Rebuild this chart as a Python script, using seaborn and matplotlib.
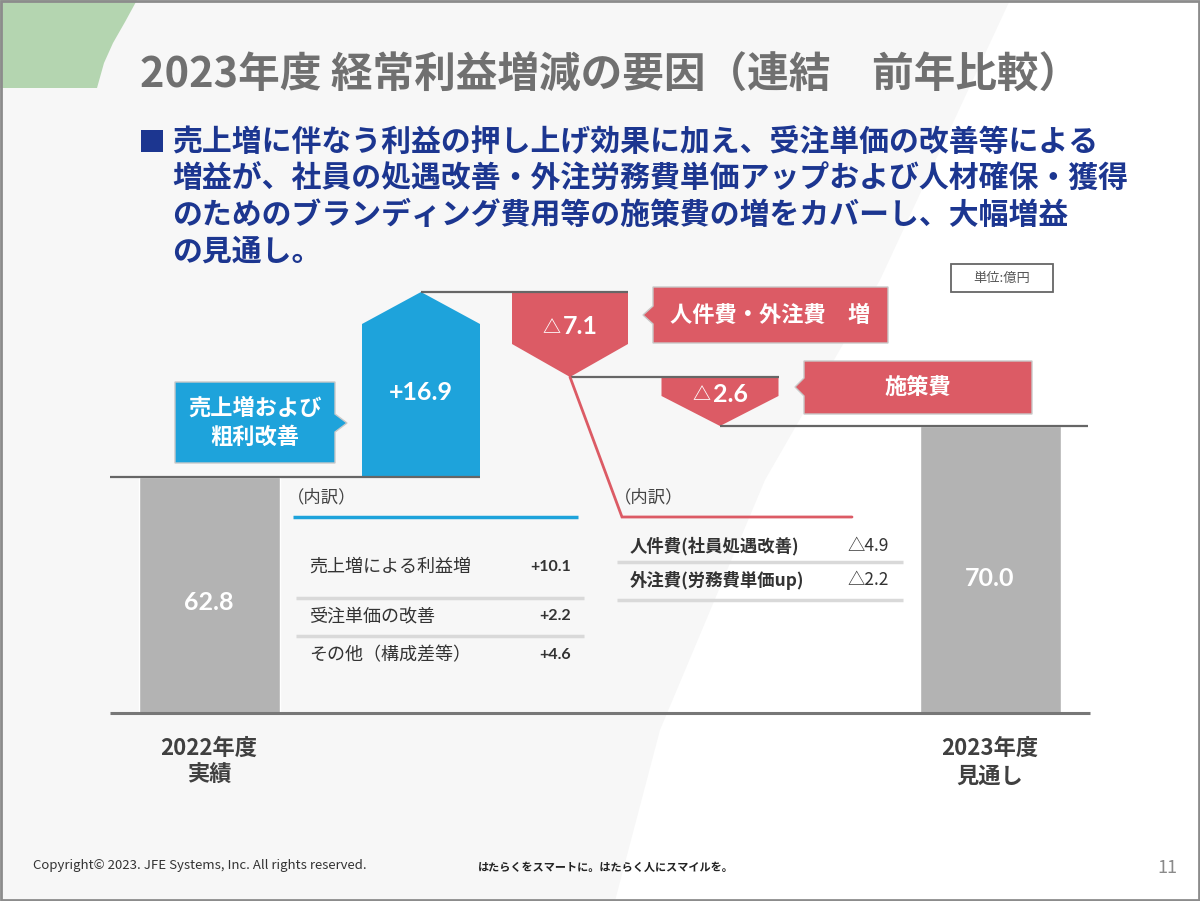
import numpy as np
import matplotlib
matplotlib.use("Agg")
import matplotlib.pyplot as plt
import seaborn as sns
from matplotlib.patches import Polygon, Rectangle

# ---------------- data ----------------
step_names = ["2022年度\n実績", "売上増および\n粗利改善", "人件費・外注費　増", "施策費", "2023年度\n見通し"]
start_value = 62.8
change_values = [16.9, -7.1, -2.6]
end_value = 70.0
step_labels = ["62.8", "+16.9", "△7.1", "△ 2.6", "70.0"]

left_items = ["売上増による利益増", "受注単価の改善", "その他（構成差等）"]
left_values = ["+10.1", "+2.2", "+4.6"]
right_items = ["人件費(社員処遇改善)", "外注費(労務費単価up)"]
right_values = ["△4.9", "△2.2"]

title = "2023年度 経常利益増減の要因（連結　前年比較）"
bullet_lines = [
    "売上増に伴なう利益の押し上げ効果に加え、受注単価の改善等による",
    "増益が、社員の処遇改善・外注労務費単価アップおよび人材確保・獲得",
    "のためのブランディング費用等の施策費の増をカバーし、大幅増益",
    "の見通し。",
]
unit_label = "単位:億円"
breakdown_label = "（内訳）"

# ---------------- style ----------------
sns.set_theme(style="white")
plt.rcParams["font.family"] = ["Noto Sans CJK JP", "DejaVu Sans"]
NUM_FONT = ["Lato", "Noto Sans CJK JP"]

W, H = 1200, 901
GRAY_BAR = "#b3b3b3"
BLUE = "#1ea3db"
RED = "#dc5b65"
NAVY = "#1c3690"
LINE = "#666666"

fig = plt.figure(figsize=(12, 9.01), dpi=100)

# background
bg = fig.add_axes([0, 0, 1, 1], zorder=0)
bg.set_xlim(0, W)
bg.set_ylim(H, 0)
bg.axis("off")
bg.add_patch(Rectangle((0, 0), W, H, facecolor="white", edgecolor="none"))
bg.add_patch(Polygon([(0, 0), (1010, 0), (880, 280), (765, 480), (660, 730), (615, H), (0, H)],
                     closed=True, facecolor="#f7f7f7", edgecolor="none"))
bg.add_patch(Polygon([(0, 0), (137, 0), (125, 22), (113, 43), (104, 63), (97, 88), (0, 88)],
                     closed=True, facecolor="#b4d5b0", edgecolor="none"))
bg.add_patch(Rectangle((1, 1), W - 2, H - 2, facecolor="none", edgecolor="#8c8c8c", lw=2))

# ---------------- waterfall data axes ----------------
levels = np.round(np.concatenate([[start_value], start_value + np.cumsum(change_values)]), 1)
knot_vals = np.unique(np.concatenate([[0.0], levels, [end_value]]))
knot_px = np.array([0, 236, 287, 336, 421], dtype=float)   # schematic heights above baseline
BASE_PX = 188  # baseline, pixels from the bottom


def _pl(x, xs, ys):
    a = np.asarray(x, dtype=float)
    f = a.ravel()
    y = np.interp(f, xs, ys)
    lo = f < xs[0]
    hi = f > xs[-1]
    y[lo] = ys[0] + (f[lo] - xs[0]) * (ys[1] - ys[0]) / (xs[1] - xs[0])
    y[hi] = ys[-1] + (f[hi] - xs[-1]) * (ys[-1] - ys[-2]) / (xs[-1] - xs[-2])
    return y.reshape(a.shape)


def fwd(v):
    return BASE_PX + _pl(v, knot_vals, knot_px)


def inv(p):
    return _pl(np.asarray(p, dtype=float) - BASE_PX, knot_px, knot_vals)


ax = fig.add_axes([0, 0, 1, 1], zorder=1)
ax.patch.set_alpha(0)
ax.set_yscale("function", functions=(fwd, inv))

step_x = [209, 421, 570, 720, 990]
step_w = [141, 118, 116, 117, 141]

# totals with seaborn
sns.barplot(x=[step_x[0], step_x[-1]], y=[start_value, end_value], native_scale=True,
            width=step_w[0] / (step_x[-1] - step_x[0]), color=GRAY_BAR, saturation=1,
            errorbar=None, ax=ax, zorder=2)


def shoulder(v, off):
    return float(inv(fwd(v) + off))


# blue increase (house shape)
b0, b1 = levels[0], levels[1]
cx, hw = step_x[1], step_w[1] / 2
ax.add_patch(Polygon([(cx - hw, b0), (cx + hw, b0), (cx + hw, shoulder(b1, -32)), (cx, b1),
                      (cx - hw, shoulder(b1, -32))], closed=True, facecolor=BLUE, edgecolor="none", zorder=2))

# red decreases (pentagons pointing down)
for i, off in [(2, 33), (3, 30)]:
    top, bot = levels[i - 1], levels[i]
    cx, hw = step_x[i], step_w[i] / 2
    ax.add_patch(Polygon([(cx - hw, top), (cx + hw, top), (cx + hw, shoulder(bot, off)), (cx, bot),
                          (cx - hw, shoulder(bot, off))], closed=True, facecolor=RED,
                         edgecolor="none", zorder=2))

# connectors
ax.hlines([levels[0], levels[1], levels[2], levels[3]],
          [110, step_x[1], step_x[2], step_x[3]],
          [step_x[1] + step_w[1] / 2, step_x[2] + step_w[2] / 2, step_x[3] + step_w[3] / 2, 1088],
          colors=LINE, lw=1.6, zorder=3)
ax.hlines(0, 110, 1090, colors="#777777", lw=2.2, zorder=3)

ax.set_xlim(0, W)
ax.set_ylim(float(inv(0)), float(inv(H)))
ax.axis("off")

# ---------------- overlay (pixel coords from top) ----------------
ov = fig.add_axes([0, 0, 1, 1], zorder=3)
ov.patch.set_alpha(0)
ov.set_xlim(0, W)
ov.set_ylim(H, 0)
ov.axis("off")

# title
ov.text(140, 76, title, fontsize=30, color="#707070", fontweight="bold", ha="left", va="center")

# bullet text
ov.add_patch(Rectangle((141, 130), 22, 22, facecolor=NAVY, edgecolor="none"))
for k, line in enumerate(bullet_lines):
    ov.text(172, 142 + 36.5 * k, line, fontsize=21.5, color=NAVY, fontweight="bold",
            ha="left", va="center")

# unit box
ov.add_patch(Rectangle((951, 264), 102, 28, facecolor="white", edgecolor="#666666", lw=1.3))
ov.text(1002, 278.5, unit_label, fontsize=9.5, color="#555555", ha="center", va="center")

# bar value labels
label_y = [603, 393, 327, 394, 578]
split_x = {2: 561, 3: 711}
for i, (x, y, s) in enumerate(zip(step_x, label_y, step_labels)):
    if s.startswith("△"):
        sx = split_x[i]
        ov.text(sx - 1, y + 1, "△", fontsize=13, color="white", fontweight="bold",
                ha="right", va="center")
        ov.text(sx + 2, y, s[1:].strip(), fontsize=18, color="white", fontweight="bold",
                family=NUM_FONT, ha="left", va="center")
    else:
        ov.text(x, y, s, fontsize=18, color="white", fontweight="bold", family=NUM_FONT,
                ha="center", va="center")

# callouts
ov.add_patch(Polygon([(175, 382), (335, 382), (335, 414), (347, 423), (335, 432), (335, 463), (175, 463)],
                     closed=True, facecolor=BLUE, edgecolor="#c9c9c9", lw=1))
ov.text(255, 423, step_names[1], fontsize=16, color="white", fontweight="bold",
        ha="center", va="center", linespacing=1.35)

ov.add_patch(Polygon([(653, 287), (888, 287), (888, 343), (653, 343), (653, 324), (643, 315), (653, 306)],
                     closed=True, facecolor=RED, edgecolor="#c9c9c9", lw=1))
ov.text(770, 315, step_names[2], fontsize=16, color="white", fontweight="bold",
        ha="center", va="center")

ov.add_patch(Polygon([(804, 361), (1032, 361), (1032, 414), (804, 414), (804, 396), (795, 387), (804, 378)],
                     closed=True, facecolor=RED, edgecolor="#c9c9c9", lw=1))
ov.text(918, 387, step_names[3], fontsize=16, color="white", fontweight="bold",
        ha="center", va="center")

# category labels under the axis
ov.text(step_x[0], 762, step_names[0], fontsize=16, color="#404040", fontweight="bold",
        ha="center", va="center", linespacing=1.25)
ov.text(step_x[-1], 762, step_names[-1], fontsize=16, color="#404040", fontweight="bold",
        ha="center", va="center", linespacing=1.25)

# left breakdown
ov.text(287, 497, breakdown_label, fontsize=12.5, color="#444444", ha="left", va="center")
ov.plot([293, 578], [517, 517], color=BLUE, lw=2.5, solid_capstyle="butt")
left_y = [567, 616, 655]
for y, name, val in zip(left_y, left_items, left_values):
    ov.text(309, y, name, fontsize=13, color="#333333", ha="left", va="center")
    ov.text(571, y, val, fontsize=11.5, color="#333333", fontweight="bold", family=NUM_FONT,
            ha="right", va="center")
for y in [598, 636]:
    ov.plot([296, 584], [y, y], color="#d9d9d9", lw=2.5, solid_capstyle="butt")

# right breakdown
tip_y = H - float(fwd(levels[2]))
ov.plot([step_x[2], 622, 852], [tip_y, 517, 517], color=RED, lw=2, solid_joinstyle="miter")
ov.text(614, 497, breakdown_label, fontsize=12.5, color="#444444", ha="left", va="center")
right_y = [546, 580]
for y, name, val in zip(right_y, right_items, right_values):
    ov.text(630, y, name, fontsize=12.5, color="#333333", fontweight="bold", ha="left", va="center")
    ov.text(889, y, val, fontsize=12.5, color="#333333", ha="right", va="center")
for y in [562, 600]:
    ov.plot([617, 903], [y, y], color="#d9d9d9", lw=2.5, solid_capstyle="butt")

# footer
ov.text(33, 866, "Copyright© 2023. JFE Systems, Inc. All rights reserved.", fontsize=9.5,
        color="#333333", ha="left", va="center")
ov.text(478, 867, "はたらくをスマートに。はたらく人にスマイルを。", fontsize=8, color="#222222",
        fontweight="bold", ha="left", va="center")
ov.text(1177, 868, "11", fontsize=13, color="#8a8a8a", ha="right", va="center")

fig.savefig("out.png", dpi=100)
